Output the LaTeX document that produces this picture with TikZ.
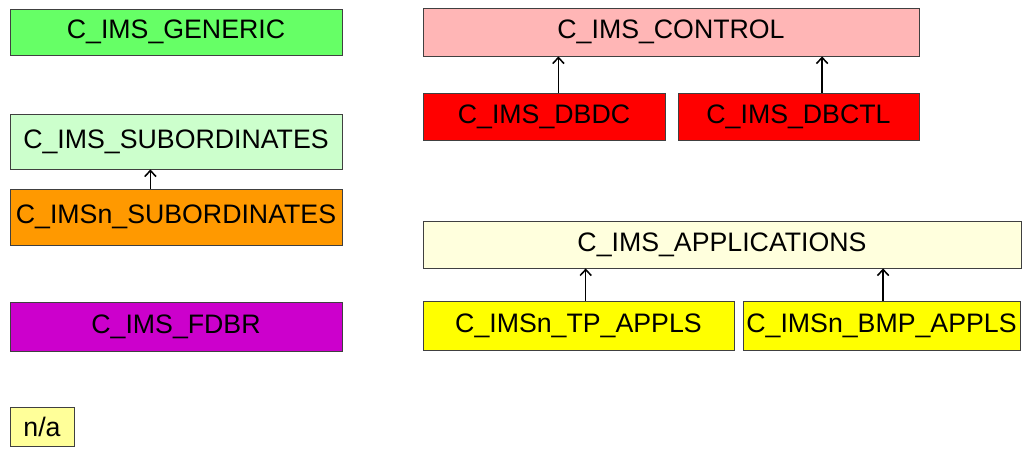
\documentclass[tikz,border=0pt]{standalone}
\usepackage{fontspec}
\setmainfont{Liberation Sans}
\usepackage{xcolor}
\usetikzlibrary{arrows.meta}
\definecolor{genericcolor}{HTML}{66FF66}
\definecolor{subcolor}{HTML}{CCFFCC}
\definecolor{subncolor}{HTML}{FF9900}
\definecolor{fdbrcolor}{HTML}{CC00CC}
\definecolor{nacolor}{HTML}{FFFF99}
\definecolor{controlcolor}{HTML}{FFB6B6}
\definecolor{dbcolor}{HTML}{FF0000}
\definecolor{applcolor}{HTML}{FFFFDD}
\definecolor{applncolor}{HTML}{FFFF00}
\tikzset{
  imsbox/.style={draw=black!75, line width=0.6pt, inner sep=1pt, font=\fontsize{19}{22}\selectfont},
  uparrow/.style={line width=1.1pt, -{Straight Barb[length=1.5mm,width=2.8mm]}}
}

\begin{document}
\begin{tikzpicture}[x=0.025cm,y=-0.025cm]
\useasboundingbox (0,0) rectangle (1022,450);
% left column
\node[imsbox, fill=genericcolor, minimum width=8.3cm, minimum height=1.15cm] (generic) at (176,32) {C\_IMS\_GENERIC};
\node[imsbox, fill=subcolor, minimum width=8.3cm, minimum height=1.375cm] (sub) at (176,141.5) {C\_IMS\_SUBORDINATES};
\node[imsbox, fill=subncolor, minimum width=8.3cm, minimum height=1.4cm] (subn) at (176,217) {C\_IMSn\_SUBORDINATES};
\node[imsbox, fill=fdbrcolor, minimum width=8.3cm, minimum height=1.225cm] (fdbr) at (176,326.5) {C\_IMS\_FDBR};
\node[imsbox, fill=nacolor, minimum width=1.6cm, minimum height=0.975cm] (na) at (42,426.5) {n/a};
% control
\node[imsbox, fill=controlcolor, minimum width=12.4cm, minimum height=1.2cm] (control) at (671,32) {C\_IMS\_CONTROL};
\node[imsbox, fill=dbcolor, minimum width=6.05cm, minimum height=1.175cm] (dbdc) at (544,116.5) {C\_IMS\_DBDC};
\node[imsbox, fill=dbcolor, minimum width=6.025cm, minimum height=1.175cm] (dbctl) at (798.5,116.5) {C\_IMS\_DBCTL};
% applications
\node[imsbox, fill=applcolor, minimum width=14.95cm, minimum height=1.175cm] (appl) at (722,244.5) {C\_IMS\_APPLICATIONS};
\node[imsbox, fill=applncolor, minimum width=7.775cm, minimum height=1.225cm] (tpappl) at (578.5,325.5) {C\_IMSn\_TP\_APPLS};
\node[imsbox, fill=applncolor, minimum width=6.925cm, minimum height=1.225cm] (bmpappl) at (881.5,325.5) {C\_IMSn\_BMP\_APPLS};
% arrows
\draw[uparrow] ([xshift=-0.64cm]subn.north) -- ([xshift=-0.64cm]subn.north |- sub.south);
\draw[uparrow] ([xshift=0.36cm]dbdc.north) -- ([xshift=0.36cm]dbdc.north |- control.south);
\draw[uparrow] ([xshift=0.59cm]dbctl.north) -- ([xshift=0.59cm]dbctl.north |- control.south);
\draw[uparrow] ([xshift=0.18cm]tpappl.north) -- ([xshift=0.18cm]tpappl.north |- appl.south);
\draw[uparrow] ([xshift=0.04cm]bmpappl.north) -- ([xshift=0.04cm]bmpappl.north |- appl.south);
\end{tikzpicture}
\end{document}
